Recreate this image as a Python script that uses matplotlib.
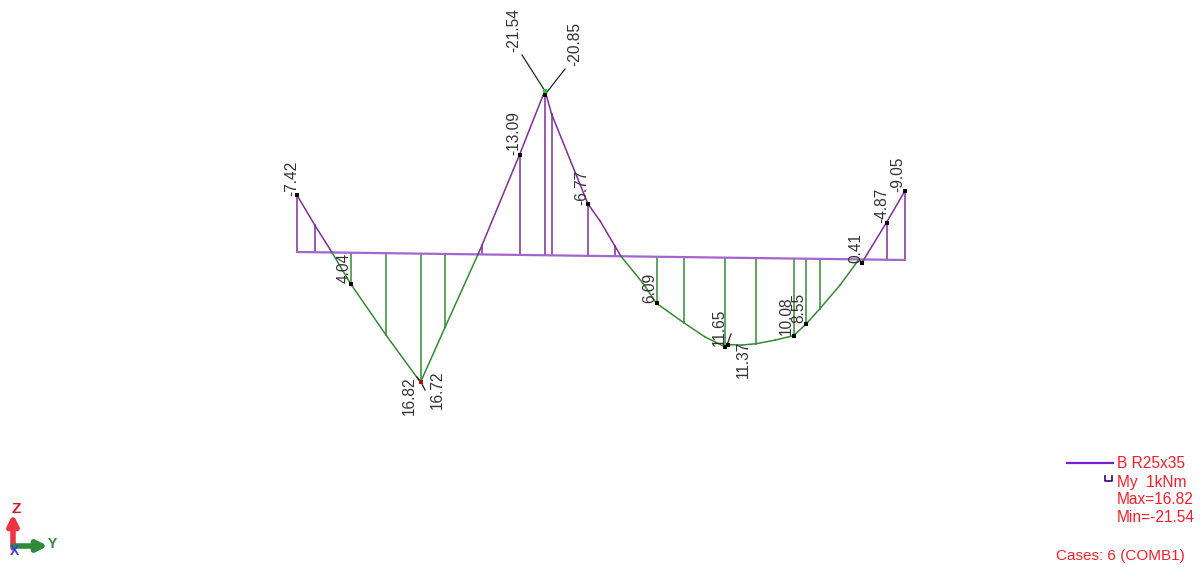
import matplotlib
matplotlib.use("Agg")
import matplotlib.pyplot as plt

plt.rcParams['font.family'] = ['Liberation Sans', 'DejaVu Sans']

# Bending moment diagram: station along the beam and moment in kNm
stations = [297, 315, 332, 350.5, 386, 420.5, 445, 478, 482, 519.5, 545, 551.5, 588, 600, 615, 621, 643,
            656.5, 684, 705, 725, 728, 742, 756, 775, 793.5, 806, 820, 840, 859, 862, 886.5, 905]
moments = [-7.42, -3.5, 0, 4.04, 10.7, 16.82, 9.6, 0, -1.2, -13.09, -21.54, -18.5, -6.77, -4.6, -1.3, 0, 3.5,
           6.09, 8.6, 10.4, 11.65, 11.37, 11.4, 11.2, 10.7, 10.08, 8.55, 6.5, 3.4, 0, 0.41, -4.87, -9.05]

# Stations that have a vertical ordinate drawn
ordinate_stations = [297, 315, 350.5, 386, 420.5, 445, 482, 519.5, 545, 551.5, 588, 615,
                     656.5, 684, 725, 756, 793.5, 806, 820, 886.5, 905]
node_stations = [297, 350.5, 519.5, 588, 656.5, 725, 728, 793.5, 806, 862, 886.5, 905]

labels = ['-7.42', '-21.54', '-20.85', '-13.09', '-6.77', '4.04', '16.82', '16.72',
          '6.09', '11.65', '11.37', '10.08', '8.55', '0.41', '-4.87', '-9.05']
label_x = [292, 514, 575, 514, 582, 344, 409, 437, 650, 719, 743, 786, 799, 856, 882, 898]
label_y = [178, 30, 44, 133, 187, 268, 396, 390, 288, 327, 359, 316, 308, 248, 205, 174]

legend_lines = ['B R25x35', 'My  1kNm', 'Max=16.82', 'Min=-21.54']
legend_y = [464, 482, 500, 518]

PURPLE = '#7d2f94'
GREEN = '#358a35'
BASE = '#a565cf'
TEXT = '#333333'
RED = '#f0202a'
SCALE = 7.65


def base_y(x):
    # beam axis is drawn slightly tilted on screen
    return 252 + (x - 297) * 8 / 608


def to_y(x, m):
    return base_y(x) + SCALE * m


fig = plt.figure(figsize=(12.04, 5.67), dpi=100)
ax = fig.add_axes([0, 0, 1, 1])
ax.set_xlim(0, 1204)
ax.set_ylim(567, 0)
ax.axis('off')

moment_at = dict(zip(stations, moments))

# ordinates
for x in ordinate_stations:
    m = moment_at[x]
    ax.plot([x, x], [base_y(x), to_y(x, m)], color=PURPLE if m < 0 else GREEN, lw=1.1, zorder=2)

# beam axis
ax.plot([297, 905], [base_y(297), base_y(905)], color=BASE, lw=1.6, zorder=3)

# diagram outline, coloured by sign
for i in range(len(stations) - 1):
    x0, x1 = stations[i], stations[i + 1]
    m0, m1 = moments[i], moments[i + 1]
    col = PURPLE if m0 + m1 < 0 else GREEN
    ax.plot([x0, x1], [to_y(x0, m0), to_y(x1, m1)], color=col, lw=1.1, zorder=4)

# leaders for the peak values
ax.plot([522, 545], [55, 91], color='#222222', lw=0.9, zorder=5)
ax.plot([565, 547], [69, 92], color='#222222', lw=0.9, zorder=5)
ax.plot([417, 421], [377, 382], color='#222222', lw=0.9, zorder=5)
ax.plot([421, 425], [382, 390], color='#222222', lw=0.9, zorder=5)
ax.plot([731, 727], [334, 345], color='#222222', lw=0.9, zorder=5)

# node markers
ax.scatter(node_stations, [to_y(x, moment_at[x]) for x in node_stations],
           marker='s', s=11, color='black', linewidths=0, zorder=6)
ax.scatter([545], [95], marker='s', s=11, color='black', linewidths=0, zorder=6)
ax.scatter([545], [91], marker='s', s=11, color='#22cc22', linewidths=0, zorder=7)
ax.scatter([421], [382], marker='s', s=8, color='#aa1111', linewidths=0, zorder=7)

for text, x, y in zip(labels, label_x, label_y):
    ax.text(x, y, text, rotation=90, ha='center', va='center', fontsize=11.2, color=TEXT, zorder=8)

# legend block
ax.plot([1067, 1113], [463, 463], color='#7a1fd8', lw=1.6)
ax.plot([1105, 1105, 1112, 1112], [476, 481, 481, 476], color='#3a1a80', lw=1.3)
for text, y in zip(legend_lines, legend_y):
    ax.text(1117, y, text, ha='left', va='center', fontsize=11.2, color=RED)
ax.text(1056, 556, 'Cases: 6 (COMB1)', ha='left', va='center', fontsize=11, color=RED)

# axis triad
ax.annotate('', xy=(13, 514), xytext=(13, 548),
            arrowprops=dict(arrowstyle='-|>,head_width=0.3,head_length=0.6', color='#ee3344', lw=4, shrinkA=0, shrinkB=0))
ax.annotate('', xy=(48, 546), xytext=(13, 546),
            arrowprops=dict(arrowstyle='-|>,head_width=0.3,head_length=0.6', color='#2e8b3a', lw=4, shrinkA=0, shrinkB=0))
ax.text(16, 509, 'Z', color='#dd1122', fontsize=11, fontweight='bold', ha='center', va='center')
ax.text(52, 544, 'Y', color='#2e8b3a', fontsize=10, fontweight='bold', ha='center', va='center')
ax.text(15, 551, 'X', color='#3344ee', fontsize=10, fontweight='bold', ha='center', va='center')

fig.savefig('out.png', dpi=100, facecolor='white')
